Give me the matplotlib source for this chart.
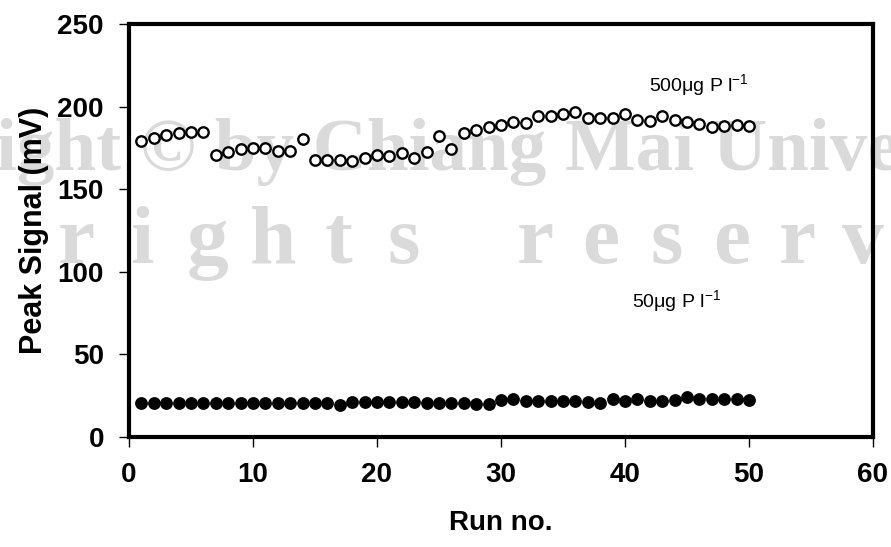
import matplotlib
matplotlib.use("Agg")
import matplotlib.pyplot as plt

runs = list(range(1, 51))
high_500 = [179.0, 181.1, 183.1, 184.1, 184.7, 184.7, 170.5, 172.5, 174.4, 174.8,
            174.8, 173.4, 172.9, 180.5, 167.5, 167.9, 167.9, 167.3, 168.9, 170.9,
            169.9, 172.0, 168.9, 172.5, 182.1, 174.6, 184.1, 186.1, 187.8, 189.2,
            190.6, 190.2, 194.2, 194.6, 195.7, 196.7, 193.2, 193.2, 193.2, 195.7,
            191.8, 191.2, 194.6, 192.2, 190.6, 189.6, 187.8, 188.2, 189.2, 188.2]
low_50 = [20.5, 20.5, 20.5, 20.5, 20.5, 20.5, 20.5, 20.5, 20.5, 20.5,
          20.5, 20.5, 20.5, 20.5, 20.5, 20.5, 19.5, 20.8, 20.8, 20.8,
          20.8, 20.8, 20.8, 20.5, 20.5, 20.5, 20.3, 20.0, 19.7, 22.3,
          22.9, 21.9, 21.5, 21.5, 21.9, 21.5, 20.9, 20.3, 22.9, 21.9,
          22.9, 21.5, 21.9, 22.3, 24.3, 22.9, 22.9, 22.9, 22.9, 22.3]

xticks = [0, 10, 20, 30, 40, 50, 60]
yticks = [0, 50, 100, 150, 200, 250]

label_500 = r'500$\mathregular{\mu}$g P l$^{\mathregular{-1}}$'
label_50 = r'50$\mathregular{\mu}$g P l$^{\mathregular{-1}}$'

wm_line = 'ight \u00a9 by Chiang Mai Unive'
wm_letters = ['r', 'i', 'g', 'h', 't', 's', '', 'r', 'e', 's', 'e', 'r', 'v']

plt.rcParams['font.family'] = ['Liberation Sans', 'DejaVu Sans']

W, H = 891, 547
fig = plt.figure(figsize=(W / 100, H / 100), dpi=100)
ax = fig.add_axes([129 / W, 1 - 436.8 / H, (873 - 129) / W, (436.8 - 24.2) / H])
ax.set_zorder(2)
ax.patch.set_alpha(0)

# watermark behind the chart (Latin parts)
col = '#dadada'
fig.text(-0.004, 1 - 170 / H, wm_line, fontsize=54, color=col,
         fontfamily='Liberation Serif', fontweight='bold', va='baseline', zorder=0)
for k, ch in enumerate(wm_letters):
    if ch:
        fig.text((76 + 65.6 * k) / W, 1 - 263 / H, ch, fontsize=60, color=col,
                 fontfamily='Liberation Serif', fontweight='bold',
                 ha='center', va='baseline', zorder=0)

ax.plot(runs, high_500, linestyle='none', marker='o', markersize=7.5,
        markerfacecolor='white', markeredgecolor='black', markeredgewidth=1.7, zorder=3)
ax.plot(runs, low_50, linestyle='none', marker='o', markersize=8.2,
        markerfacecolor='black', markeredgecolor='black', zorder=3)

ax.set_xlim(0, 60)
ax.set_ylim(0, 250)
ax.set_xticks(xticks)
ax.set_yticks(yticks)
ax.set_xticklabels([str(t) for t in xticks], fontsize=20, fontweight='bold')
ax.set_yticklabels([str(t) for t in yticks], fontsize=20, fontweight='bold')
ax.tick_params(direction='out', length=7, width=1, pad=11)
for s in ax.spines.values():
    s.set_linewidth(3)

ax.set_xlabel('Run no.', fontsize=20, fontweight='bold', labelpad=16)
ax.set_ylabel('Peak Signal (mV)', fontsize=22, fontweight='bold', labelpad=6)

ax.text(41.9, 212.5, label_500, fontsize=14, va='center')
ax.text(40.6, 82, label_50, fontsize=14, va='center')

fig.savefig('out.png', dpi=100)
